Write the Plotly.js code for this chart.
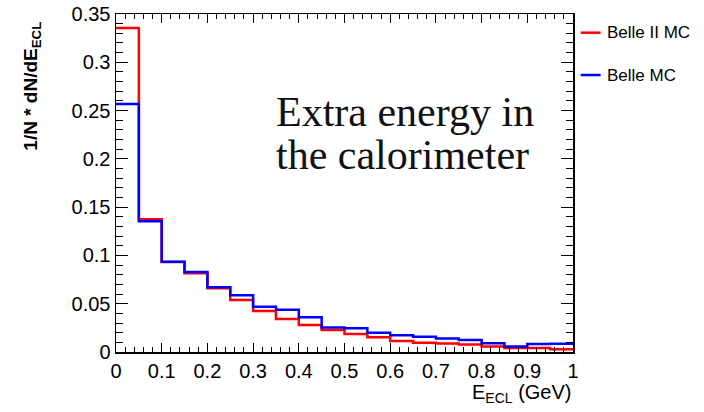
<!DOCTYPE html>
<html>
<head>
<meta charset="utf-8">
<script src="https://cdn.plot.ly/plotly-3.0.1.min.js"></script>
<style>html,body{margin:0;padding:0;background:#fff;}#chart{width:704px;height:412px;}</style>
</head>
<body>
<div id="chart"></div>
<script>
// Bin edges (GeV)
const binEdges = [0,0.05,0.1,0.15,0.2,0.25,0.3,0.35,0.4,0.45,0.5,0.55,0.6,0.65,0.7,0.75,0.8,0.85,0.9,0.95,1.0];
// Normalised bin contents
const belle2MC = [0.3355,0.1374,0.0933,0.0815,0.0660,0.0538,0.0425,0.0342,0.0280,0.0228,0.0186,0.0152,0.0114,0.0096,0.0088,0.0078,0.0057,0.0041,0.0041,0.0028];
const belleMC  = [0.2568,0.1353,0.0935,0.0828,0.0670,0.0587,0.0469,0.0438,0.0359,0.0254,0.0245,0.0200,0.0173,0.0158,0.0140,0.0124,0.0090,0.0057,0.0083,0.0086];
const seriesNames = ['Belle II MC','Belle MC'];
const seriesColors = ['#ff0000','#0000ff'];
const yTickVals = [0,0.05,0.1,0.15,0.2,0.25,0.3,0.35];
const yTickText = ['0','0.05','0.1','0.15','0.2','0.25','0.3','0.35'];
const xTickVals = [0,0.1,0.2,0.3,0.4,0.5,0.6,0.7,0.8,0.9,1];
const xTickText = ['0','0.1','0.2','0.3','0.4','0.5','0.6','0.7','0.8','0.9','1'];

function stepY(v){ return v.concat([v[v.length-1]]); }

const traces = [belle2MC, belleMC].map((v,i)=>({
  type:'scatter', mode:'lines', x: binEdges, y: stepY(v),
  line:{shape:'hv', color: seriesColors[i], width:2.5},
  name: seriesNames[i], showlegend:false, hoverinfo:'skip'
}));

const font = {family:'Liberation Sans, Arial, sans-serif', color:'#000'};
const legendY = [0.9447, 0.8195];

const shapes = legendY.map((yy,i)=>({
  type:'line', xref:'paper', yref:'paper', x0:1.0168, x1:1.0604, y0:yy, y1:yy,
  line:{color:seriesColors[i], width:2.5}
}));

const serif = {family:'Liberation Serif, Times New Roman, serif', size:42, color:'#111'};

const annotations = [
  ...legendY.map((yy,i)=>({
    xref:'paper', yref:'paper', x:1.070, y:yy, xanchor:'left', yanchor:'middle',
    text:seriesNames[i], showarrow:false, font:Object.assign({size:17}, font)
  })),
  {xref:'x', yref:'y', x:0.346, y:0.2485, xanchor:'left', yanchor:'middle', showarrow:false,
   text:'Extra energy in', font:serif},
  {xref:'x', yref:'y', x:0.346, y:0.2045, xanchor:'left', yanchor:'middle', showarrow:false,
   text:'the calorimeter', font:serif},
  {xref:'paper', yref:'paper', x:-0.1838, y:0.785, xanchor:'center', yanchor:'middle', showarrow:false,
   textangle:-90, text:'<b>1/N * dN/dE<sub>ECL</sub></b>', font:Object.assign({size:19}, font)},
  {xref:'paper', yref:'paper', x:1.0, y:-0.124, xanchor:'right', yanchor:'middle', showarrow:false,
   text:'E<sub>ECL</sub> (GeV)', font:Object.assign({size:20}, font)}
];

const layout = {
  width:704, height:412,
  margin:{l:116, r:131, t:14, b:60, pad:0},
  paper_bgcolor:'#fff', plot_bgcolor:'#fff',
  showlegend:false,
  xaxis:{range:[0,1], tickvals:xTickVals, ticktext:xTickText, ticks:'inside', ticklen:9, tickwidth:1, tickcolor:'#000',
    showline:true, linecolor:'#000', linewidth:1.5, mirror:'allticks', showgrid:false, zeroline:false,
    tickfont:Object.assign({size:20}, font),
    minor:{dtick:0.02, ticks:'inside', ticklen:5, tickwidth:1, tickcolor:'#000', showgrid:false}},
  yaxis:{range:[0,0.35], tickvals:yTickVals, ticktext:yTickText, ticks:'inside', ticklen:12, tickwidth:1, tickcolor:'#000',
    showline:true, linecolor:'#000', linewidth:1.5, mirror:'allticks', showgrid:false, zeroline:false,
    tickfont:Object.assign({size:20}, font),
    minor:{dtick:0.01, ticks:'inside', ticklen:7, tickwidth:1, tickcolor:'#000', showgrid:false}},
  shapes: shapes,
  annotations: annotations
};

Plotly.newPlot('chart', traces, layout, {displayModeBar:false, staticPlot:true});
</script>
</body>
</html>
